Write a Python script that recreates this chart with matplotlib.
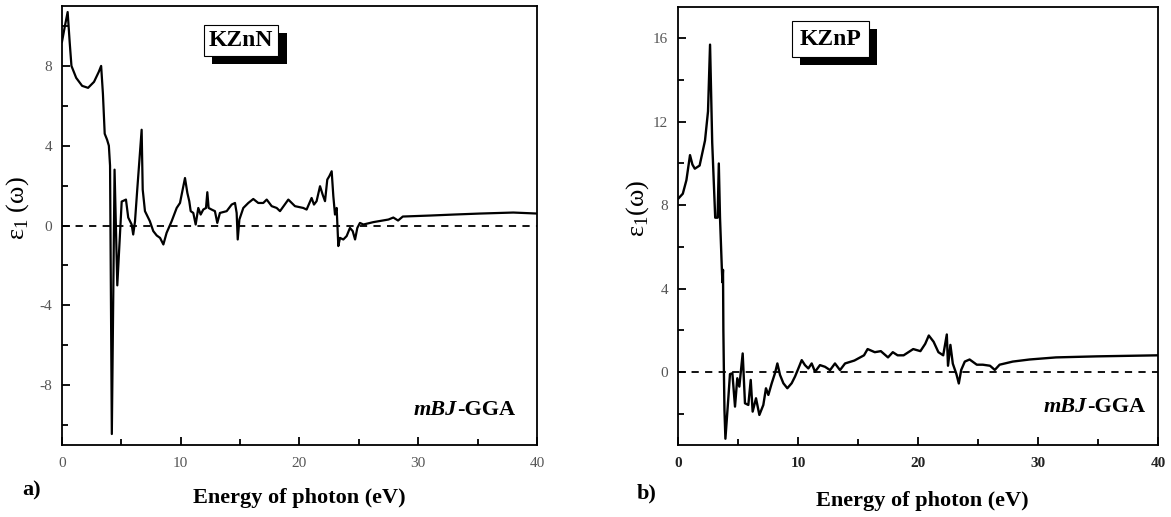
import matplotlib.pyplot as plt
import matplotlib.patheffects as pe
from matplotlib.ticker import MultipleLocator

plt.rcParams['font.family'] = 'Liberation Serif'
plt.rcParams['mathtext.fontset'] = 'custom'
plt.rcParams['mathtext.rm'] = 'Liberation Serif'
plt.rcParams['axes.unicode_minus'] = False

# a) KZnN, eps1 vs photon energy (eV)
kznn_e = [0, 0.25, 0.48, 0.65, 0.8, 1.2, 1.7, 2.2, 2.7, 3.1, 3.3, 3.45, 3.6, 3.8, 3.95,
          4.05, 4.2, 4.43, 4.66, 5.03, 5.39, 5.58, 5.87, 6.0, 6.15, 6.34, 6.55, 6.71, 6.8,
          6.99, 7.13, 7.4, 7.69, 7.98, 8.26, 8.54, 8.81, 9.24, 9.66, 9.94, 10.08, 10.36,
          10.56, 10.72, 10.84, 11.06, 11.26, 11.48, 11.68, 11.9, 12.13, 12.24, 12.35, 12.6,
          12.88, 13.08, 13.3, 13.87, 14.29, 14.57, 14.71, 14.8, 14.94, 15.27, 15.69, 16.11,
          16.53, 16.95, 17.24, 17.66, 18.08, 18.36, 19.06, 19.62, 20.32, 20.6, 21.02, 21.22,
          21.44, 21.73, 21.95, 22.15, 22.34, 22.51, 22.71, 22.85, 22.99, 23.13, 23.27, 23.41,
          23.69, 23.97, 24.25, 24.48, 24.68, 24.87, 25.09, 25.38, 26.22, 27.49, 27.9, 28.3,
          28.7, 31.0, 33.0, 35.2, 38.0, 40.0]
kznn_eps = [9.2, 10.0, 10.7, 9.2, 8.0, 7.4, 7.0, 6.9, 7.2, 7.7, 8.0, 6.6, 4.6, 4.3, 4.0,
            3.0, -10.45, 2.8, -3.0, 1.2, 1.3, 0.4, 0.05, -0.45, 0.2, 1.8, 3.5, 4.8, 1.8,
            0.72, 0.55, 0.22, -0.28, -0.5, -0.62, -0.95, -0.37, 0.22, 0.88, 1.13, 1.55, 2.38,
            1.63, 1.22, 0.72, 0.63, 0.05, 0.88, 0.55, 0.8, 0.88, 1.67, 0.88, 0.8,
            0.72, 0.13, 0.63, 0.72, 1.05, 1.13, 0.63, -0.7, 0.3, 0.88, 1.13, 1.33,
            1.13, 1.13, 1.3, 0.97, 0.88, 0.72, 1.3, 0.97, 0.88, 0.8, 1.38, 1.05,
            1.22, 1.97, 1.55, 1.22, 2.3, 2.47, 2.72, 1.47, 0.55, 0.88, -1.03, -0.62,
            -0.7, -0.53, -0.12, -0.28, -0.7, -0.12, 0.13, 0.05, 0.17, 0.3, 0.4, 0.25,
            0.45, 0.5, 0.55, 0.6, 0.65, 0.6]

# b) KZnP
kznp_e = [0, 0.4, 0.7, 1.0, 1.2, 1.4, 1.8, 2.25, 2.5, 2.67, 2.85, 3.1, 3.3, 3.4, 3.5,
          3.65, 3.7, 3.75, 3.78, 3.82, 3.87, 3.95, 4.2, 4.33, 4.53, 4.75, 4.94, 5.11, 5.39,
          5.58, 5.86, 6.06, 6.22, 6.5, 6.78, 7.11, 7.33, 7.53, 7.81, 8.08, 8.28, 8.5, 8.78,
          9.11, 9.47, 9.75, 10.03, 10.31, 10.58, 10.86, 11.14, 11.42, 11.83, 12.25, 12.67,
          13.08, 13.5, 13.92, 14.7, 15.5, 15.8, 16.4, 16.9, 17.5, 17.9, 18.3, 18.8, 19.6,
          20.2, 20.6, 20.9, 21.3, 21.7, 22.1, 22.4, 22.5, 22.7, 22.9, 23.2, 23.4, 23.6,
          23.9, 24.3, 24.9, 25.4, 26.0, 26.4, 26.8, 27.9, 29.3, 31.5, 34.9, 40.0]
kznp_eps = [8.3, 8.55, 9.2, 10.4, 9.95, 9.75, 9.9, 11.1, 12.5, 15.7, 11.0, 7.4, 7.4, 10.0, 7.4,
            5.0, 4.3, 4.9, 2.0, 0.2, -1.8, -3.2, -1.2, -0.1, -0.06, -1.66, -0.3, -0.7, 0.89,
            -1.5, -1.58, -0.38, -1.9, -1.26, -2.06, -1.58, -0.78, -1.1, -0.54, -0.06, 0.41, -0.14, -0.54,
            -0.78, -0.54, -0.22, 0.17, 0.57, 0.33, 0.17, 0.41, 0.01, 0.33, 0.25, 0.09,
            0.41, 0.09, 0.41, 0.55, 0.8, 1.1, 0.95, 1.0, 0.7, 0.95, 0.8, 0.8, 1.1,
            1.0, 1.35, 1.75, 1.45, 0.95, 0.8, 1.8, 0.3, 1.3, 0.4, -0.1, -0.55, 0.1,
            0.5, 0.6, 0.35, 0.35, 0.3, 0.1, 0.35, 0.5, 0.6, 0.7, 0.75, 0.8]

fig = plt.figure(figsize=(11.71, 5.17), dpi=100)
ax_a = fig.add_axes([0.0529, 0.1393, 0.4057, 0.849])
ax_b = fig.add_axes([0.579, 0.1393, 0.4099, 0.847])


def setup(ax, ylim, ylabel, xbold):
    ax.set_xlim(0, 40)
    ax.set_ylim(*ylim)
    ax.axhline(0, color='black', lw=1.3, ls=(0, (4, 3.5)), zorder=1)
    ax.xaxis.set_major_locator(MultipleLocator(10))
    ax.xaxis.set_minor_locator(MultipleLocator(5))
    ax.yaxis.set_major_locator(MultipleLocator(4))
    ax.yaxis.set_minor_locator(MultipleLocator(2))
    ax.tick_params(which='both', direction='in', top=False, right=False, width=1.3)
    ax.tick_params(which='major', length=6)
    ax.tick_params(which='minor', length=4)
    ax.tick_params(axis='x', pad=9, labelsize=11)
    ax.tick_params(axis='y', pad=7, labelsize=11, labelcolor='#555555')
    for lab in ax.get_xticklabels():
        if xbold:
            lab.set_fontweight('bold')
            lab.set_color('#222222')
        else:
            lab.set_color('#555555')
    for s in ax.spines.values():
        s.set_linewidth(1.3)
    ax.set_xlabel('Energy of photon (eV)', fontsize=16, fontweight='bold')
    ax.set_ylabel(ylabel, fontsize=19)


setup(ax_a, (-11, 11), r'ε$_\mathrm{1}$ (ω)', False)
setup(ax_b, (-3.5, 17.5), r'ε$_\mathrm{1}$(ω)', True)

ax_a.plot(kznn_e, kznn_eps, color='black', lw=1.6, zorder=2)
ax_b.plot(kznp_e, kznp_eps, color='black', lw=1.7, zorder=2)

ax_a.xaxis.set_label_coords(0.5, -0.098)
ax_b.xaxis.set_label_coords(0.51, -0.105)
ax_a.yaxis.set_label_coords(-0.066, 0.54)
ax_b.yaxis.set_label_coords(-0.057, 0.54)

# compound boxes with black drop shadow
for ax, name, pos, pad in [(ax_a, 'KZnN', (0.377, 0.922), 0.22),
                           (ax_b, 'KZnP', (0.317, 0.927), 0.32)]:
    t = ax.text(pos[0], pos[1], name, transform=ax.transAxes, ha='center', va='center',
                fontsize=17, fontweight='bold', zorder=5,
                bbox=dict(boxstyle=f'square,pad={pad}', fc='white', ec='black', lw=0.8))
    t.get_bbox_patch().set_path_effects([
        pe.SimplePatchShadow(offset=(6, -6), shadow_rgbFace='black', alpha=1.0),
        pe.Normal()])

for ax, pos in [(ax_a, (0.954, 0.08)), (ax_b, (0.973, 0.087))]:
    g = ax.text(pos[0], pos[1], '-GGA', transform=ax.transAxes, ha='right', va='center',
                fontsize=16, fontweight='bold')
    ax.annotate('mBJ', xy=(0, 0), xycoords=g, ha='right', va='bottom',
                fontsize=16, fontweight='bold', fontstyle='italic')

fig.text(0.019, 0.052, 'a)', fontsize=16, fontweight='bold', va='center')
fig.text(0.544, 0.046, 'b)', fontsize=16, fontweight='bold', va='center')

fig.savefig('out.png', dpi=100)
